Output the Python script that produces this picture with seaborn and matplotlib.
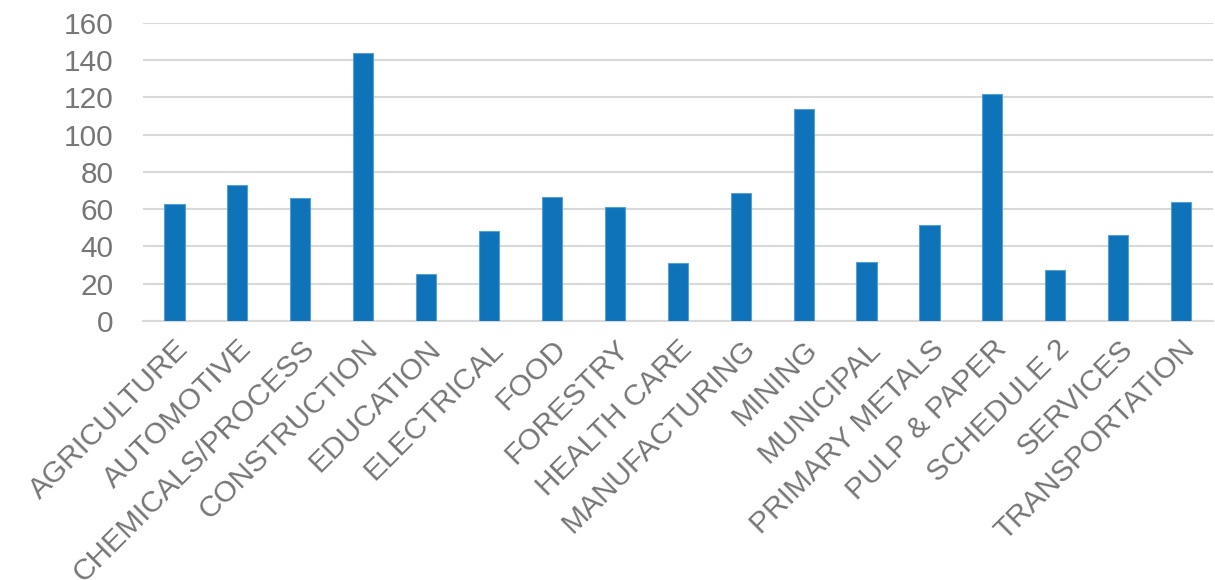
import pandas as pd
import seaborn as sns
import matplotlib.pyplot as plt

# === Data ===
sectors = ["AGRICULTURE", "AUTOMOTIVE", "CHEMICALS/PROCESS", "CONSTRUCTION",
           "EDUCATION", "ELECTRICAL", "FOOD", "FORESTRY", "HEALTH CARE",
           "MANUFACTURING", "MINING", "MUNICIPAL", "PRIMARY METALS",
           "PULP & PAPER", "SCHEDULE 2", "SERVICES", "TRANSPORTATION"]
counts = [63, 73, 66, 144, 25, 48.5, 66.5, 61, 31, 68.5, 113.5, 31.5, 51.5,
          122, 27.5, 46, 64]
y_ticks = [0, 20, 40, 60, 80, 100, 120, 140, 160]

df = pd.DataFrame({"Sector": sectors, "Count": counts})

sns.set_style("white")
plt.rcParams['font.family'] = ['Liberation Sans', 'DejaVu Sans']

grey = "#767676"
fig = plt.figure(figsize=(12.15, 5.8), dpi=100)
ax = fig.add_axes([0.1177, 0.4466, 0.8803, 0.5143])

sns.barplot(data=df, x="Sector", y="Count", color="#0E73B8", width=0.32,
            saturation=1, edgecolor="#5A9FD4", linewidth=0.8, ax=ax, zorder=3)

ax.set_ylim(0, 160)
ax.set_yticks(y_ticks)
ax.set_xlim(-0.5, len(sectors) - 0.5)
ax.yaxis.grid(True, color="#d9d9d9", linewidth=1.5, zorder=0)
ax.set_axisbelow(True)
for side in ["top", "right", "left"]:
    ax.spines[side].set_visible(False)
ax.spines["bottom"].set_color("#d9d9d9")
ax.spines["bottom"].set_linewidth(1.5)

ax.set_xlabel("")
ax.set_ylabel("")
ax.tick_params(axis="y", length=0, pad=21, labelsize=21.5, labelcolor=grey)
ax.tick_params(axis="x", length=0, pad=10, labelsize=21.5, labelcolor=grey)
plt.setp(ax.get_xticklabels(), rotation=45, ha="right", rotation_mode="anchor")

fig.savefig("out.png", dpi=100)
